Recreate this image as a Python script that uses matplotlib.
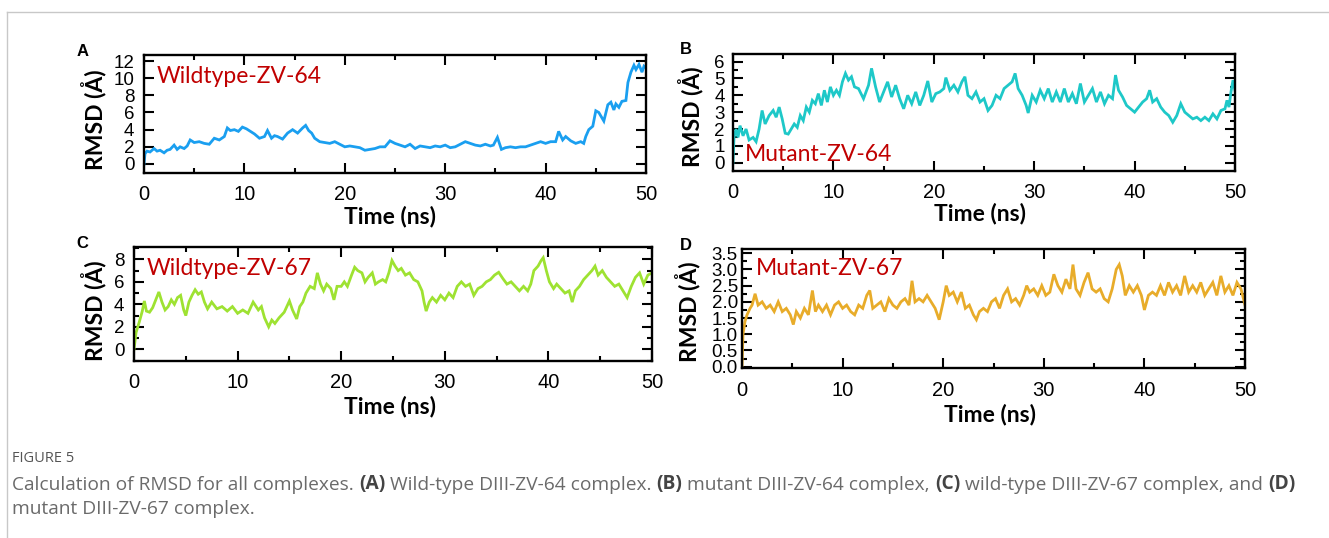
import matplotlib
matplotlib.use("Agg")
import matplotlib.pyplot as plt
from matplotlib.lines import Line2D
from matplotlib.ticker import MultipleLocator, FormatStrFormatter

W, H = 1329, 538

# ---- data (time in ns, RMSD in Angstrom) ----
t_a = [0, 0.1, 0.3, 0.6, 1.0, 1.3, 1.6, 2.0, 2.3, 2.6, 3.0, 3.3, 3.6, 4.0, 4.3, 4.6, 5.0, 5.5, 6.0, 6.5,
       7.0, 7.5, 8.0, 8.3, 8.6, 9.0, 9.4, 9.8, 10.2, 10.6, 11.0, 11.5, 12.0, 12.3, 12.7, 13.0, 13.3, 13.8, 14.3, 14.8,
       15.3, 15.8, 16.1, 16.4, 16.7, 17.0, 17.5, 18.0, 18.5, 19.0, 19.5, 20.0, 20.5, 21.0, 21.5, 22.0, 22.5, 23.0, 23.5, 24.0,
       24.5, 25.0, 25.5, 26.0, 26.5, 27.0, 27.5, 28.0, 28.5, 29.0, 29.5, 30.0, 30.5, 31.0, 31.5, 32.0, 32.5, 33.0, 33.5, 34.0,
       34.5, 34.8, 35.2, 35.6, 36.0, 36.5, 37.0, 37.5, 38.0, 38.5, 39.0, 39.5, 40.0, 40.5, 41.0, 41.3, 41.7, 42.0, 42.5, 43.0,
       43.5, 43.8, 44.0, 44.3, 44.7, 45.0, 45.3, 45.8, 46.2, 46.5, 46.8, 47.0, 47.3, 47.6, 48.0, 48.2, 48.5, 48.8, 49.0, 49.3,
       49.6, 49.8, 50.0]
rmsd_a = [0.0, 1.2, 1.5, 1.4, 1.8, 1.5, 1.6, 1.3, 1.6, 1.7, 2.2, 1.7, 2.0, 1.8, 2.1, 2.8, 2.5, 2.6, 2.4, 2.3,
          3.0, 2.8, 3.2, 4.2, 3.9, 4.0, 3.8, 4.3, 4.1, 3.8, 3.5, 3.0, 3.2, 3.9, 3.0, 3.3, 3.2, 2.9, 3.6, 4.0,
          3.6, 4.2, 4.5, 3.9, 3.6, 3.0, 2.6, 2.5, 2.4, 2.6, 2.3, 2.0, 2.1, 2.0, 1.9, 1.6, 1.7, 1.8, 2.0, 2.0,
          2.7, 2.4, 2.2, 2.0, 2.3, 1.8, 2.1, 2.0, 1.9, 2.1, 2.0, 2.2, 1.9, 2.0, 2.3, 2.6, 2.4, 2.2, 2.1, 2.3,
          2.1, 2.2, 3.1, 1.7, 1.9, 2.0, 1.9, 2.0, 2.0, 2.2, 2.4, 2.6, 2.4, 2.6, 2.6, 3.8, 2.8, 3.2, 2.7, 2.4,
          2.6, 2.4, 3.2, 4.0, 4.4, 6.2, 6.0, 5.0, 6.9, 7.2, 6.3, 7.0, 6.6, 7.3, 7.4, 9.5, 10.7, 11.5, 11.0, 11.6,
          10.7, 11.4, 11.2]

t_b = [0, 0.1, 0.3, 0.5, 0.7, 1.0, 1.3, 1.6, 2.0, 2.3, 2.6, 2.9, 3.2, 3.6, 4.0, 4.3, 4.6, 4.9, 5.2, 5.5,
       5.8, 6.1, 6.4, 6.7, 7.0, 7.3, 7.6, 7.9, 8.2, 8.5, 8.8, 9.1, 9.4, 9.7, 10.0, 10.3, 10.6, 10.9, 11.2, 11.5,
       11.8, 12.1, 12.5, 13.0, 13.5, 13.8, 14.2, 14.6, 15.0, 15.4, 15.8, 16.2, 16.6, 17.0, 17.4, 17.8, 18.2, 18.6, 19.0, 19.4,
       19.8, 20.2, 20.6, 21.0, 21.2, 21.6, 22.0, 22.4, 22.8, 23.1, 23.4, 23.8, 24.2, 24.6, 25.0, 25.4, 25.8, 26.2, 26.6, 27.0,
       27.4, 27.8, 28.1, 28.4, 28.8, 29.2, 29.4, 29.8, 30.2, 30.6, 31.0, 31.4, 31.8, 32.2, 32.6, 33.0, 33.4, 33.8, 34.2, 34.6,
       35.0, 35.4, 35.8, 36.2, 36.6, 37.0, 37.4, 37.8, 38.1, 38.4, 38.8, 39.2, 39.6, 40.0, 40.4, 40.8, 41.2, 41.5, 41.8, 42.2,
       42.6, 43.0, 43.4, 43.8, 44.2, 44.6, 45.0, 45.4, 45.8, 46.2, 46.6, 47.0, 47.4, 47.8, 48.2, 48.6, 49.0, 49.2, 49.4, 49.6,
       49.8, 50.0]
rmsd_b = [0.0, 1.5, 2.0, 1.5, 2.2, 1.6, 2.0, 1.35, 1.5, 1.25, 2.0, 3.1, 2.3, 2.8, 3.1, 2.7, 3.3, 2.6, 1.75, 1.7,
          2.0, 2.3, 2.1, 2.8, 2.5, 3.3, 3.0, 3.7, 3.5, 4.1, 3.4, 4.3, 3.6, 4.5, 4.0, 4.3, 4.0, 4.8, 5.3, 4.9,
          5.1, 4.5, 4.4, 3.8, 4.6, 5.6, 4.5, 3.6, 4.2, 4.8, 3.9, 4.6, 3.8, 3.2, 4.0, 3.5, 4.2, 3.4, 4.0, 4.85,
          3.6, 4.1, 4.2, 4.4, 5.05, 4.3, 4.6, 4.2, 4.8, 5.1, 4.0, 3.8, 4.2, 3.6, 3.8, 3.1, 3.4, 4.0, 3.8, 4.4,
          4.6, 4.8, 5.3, 4.4, 4.0, 3.4, 2.95, 4.0, 3.6, 4.3, 3.8, 4.4, 3.6, 4.2, 3.6, 4.4, 3.6, 4.1, 3.5, 4.7,
          3.6, 4.0, 4.4, 3.6, 4.2, 3.5, 4.0, 3.8, 5.2, 4.3, 3.9, 3.4, 3.2, 3.0, 3.3, 3.6, 3.8, 4.3, 3.6, 3.8,
          3.3, 3.0, 2.8, 2.4, 2.8, 3.5, 3.0, 2.8, 2.6, 2.7, 2.5, 2.7, 2.5, 2.9, 2.6, 3.1, 3.2, 3.7, 3.3, 4.2,
          4.9, 4.3]

t_c = [0, 0.2, 0.5, 0.8, 1.0, 1.2, 1.5, 1.8, 2.1, 2.4, 2.7, 3.0, 3.3, 3.6, 3.9, 4.2, 4.5, 4.8, 5.0, 5.3,
       5.6, 5.9, 6.2, 6.5, 6.8, 7.1, 7.5, 8.0, 8.5, 9.0, 9.5, 10.0, 10.5, 11.0, 11.5, 12.0, 12.3, 12.6, 13.0, 13.3,
       13.6, 14.0, 14.5, 15.0, 15.3, 15.7, 16.0, 16.3, 16.6, 17.0, 17.4, 17.7, 18.0, 18.3, 18.6, 19.0, 19.3, 19.6, 20.0, 20.3,
       20.6, 21.0, 21.3, 21.6, 22.0, 22.3, 22.6, 23.0, 23.3, 23.6, 24.0, 24.3, 24.6, 24.9, 25.2, 25.5, 25.8, 26.2, 26.6, 27.0,
       27.4, 27.8, 28.0, 28.2, 28.5, 28.8, 29.2, 29.6, 30.0, 30.4, 30.8, 31.2, 31.6, 32.0, 32.4, 32.8, 33.2, 33.6, 34.0, 34.4,
       34.8, 35.2, 35.6, 36.0, 36.4, 36.8, 37.2, 37.6, 38.0, 38.3, 38.6, 39.0, 39.3, 39.5, 39.8, 40.1, 40.5, 40.8, 41.2, 41.6,
       42.0, 42.3, 42.6, 43.0, 43.4, 43.8, 44.2, 44.5, 44.8, 45.2, 45.6, 46.0, 46.4, 46.8, 47.2, 47.6, 48.0, 48.4, 48.8, 49.2,
       49.6, 50.0]
rmsd_c = [0.0, 1.5, 2.4, 3.4, 4.3, 3.4, 3.3, 3.7, 4.4, 5.1, 4.2, 3.5, 3.8, 4.4, 4.0, 4.6, 4.8, 3.5, 3.0, 4.2,
          4.8, 5.3, 4.9, 5.1, 4.2, 3.6, 4.2, 3.6, 3.8, 3.4, 3.8, 3.2, 3.5, 3.2, 4.2, 3.5, 3.8, 2.8, 2.0, 2.6,
          2.3, 2.8, 3.3, 4.3, 3.5, 2.7, 3.8, 4.2, 5.0, 5.6, 5.4, 6.8, 5.8, 5.2, 5.8, 5.4, 4.4, 5.6, 5.6, 6.0,
          5.6, 6.6, 7.3, 7.0, 6.8, 6.0, 6.4, 6.8, 5.8, 6.0, 6.2, 6.0, 6.8, 7.9, 7.4, 7.0, 7.2, 6.6, 6.8, 6.2,
          6.0, 5.2, 4.2, 3.4, 4.2, 4.6, 4.2, 4.8, 4.4, 5.0, 4.6, 5.6, 6.0, 5.6, 5.8, 4.8, 5.4, 5.6, 6.0, 6.2,
          6.6, 6.85, 6.3, 5.8, 6.0, 5.6, 5.2, 5.6, 5.2, 5.8, 7.0, 7.4, 7.9, 8.15, 7.0, 6.0, 5.4, 5.8, 5.4, 5.0,
          5.2, 4.2, 5.2, 5.6, 6.2, 6.6, 7.0, 7.4, 6.6, 7.0, 6.4, 6.0, 5.6, 5.8, 5.2, 4.6, 5.6, 6.4, 6.8, 5.8,
          6.6, 6.8]

t_d = [0, 0.1, 0.3, 0.5, 0.8, 1.0, 1.3, 1.6, 2.0, 2.4, 2.8, 3.2, 3.6, 4.0, 4.4, 4.8, 5.1, 5.4, 5.8, 6.2,
       6.6, 7.0, 7.3, 7.6, 8.0, 8.4, 8.8, 9.2, 9.6, 10.0, 10.4, 10.8, 11.2, 11.6, 12.0, 12.4, 12.7, 13.0, 13.4, 13.8,
       14.2, 14.6, 15.0, 15.4, 15.8, 16.2, 16.6, 16.9, 17.2, 17.6, 18.0, 18.4, 18.8, 19.2, 19.6, 20.0, 20.3, 20.6, 21.0, 21.4,
       21.8, 22.2, 22.6, 23.0, 23.3, 23.6, 24.0, 24.4, 24.8, 25.2, 25.6, 26.0, 26.4, 26.8, 27.2, 27.6, 28.0, 28.3, 28.6, 29.0,
       29.4, 29.8, 30.2, 30.6, 31.0, 31.4, 31.8, 32.2, 32.6, 32.9, 33.2, 33.6, 34.0, 34.4, 34.8, 35.2, 35.6, 36.0, 36.4, 36.8,
       37.2, 37.5, 37.8, 38.1, 38.5, 38.9, 39.3, 39.7, 40.0, 40.4, 40.8, 41.2, 41.6, 42.0, 42.4, 42.8, 43.2, 43.6, 44.0, 44.4,
       44.8, 45.2, 45.6, 46.0, 46.4, 46.8, 47.2, 47.6, 48.0, 48.4, 48.8, 49.2, 49.6, 50.0]
rmsd_d = [0.0, 1.0, 1.4, 1.6, 1.8, 1.9, 2.25, 1.9, 2.0, 1.8, 1.9, 1.7, 2.0, 1.7, 1.8, 1.6, 1.3, 1.7, 1.5, 1.8,
          1.6, 2.35, 1.7, 1.9, 1.7, 1.9, 1.6, 1.9, 2.0, 1.8, 1.9, 1.7, 1.6, 1.9, 1.8, 2.2, 2.35, 1.8, 1.9, 2.0,
          1.7, 2.1, 1.9, 1.8, 2.0, 2.1, 1.9, 2.65, 2.0, 2.1, 2.0, 2.2, 2.0, 1.8, 1.45, 2.0, 2.5, 2.2, 2.3, 2.0,
          2.3, 1.8, 1.9, 1.6, 1.45, 1.7, 1.8, 1.7, 2.0, 2.1, 1.8, 2.2, 2.4, 2.0, 2.1, 1.9, 2.2, 2.5, 2.3, 2.4,
          2.2, 2.5, 2.2, 2.3, 2.85, 2.5, 2.3, 2.7, 2.4, 3.15, 2.4, 2.2, 2.6, 2.9, 2.4, 2.3, 2.4, 2.1, 2.0, 2.4,
          3.0, 3.15, 2.8, 2.2, 2.5, 2.3, 2.5, 2.2, 1.75, 2.2, 2.3, 2.2, 2.5, 2.2, 2.6, 2.3, 2.5, 2.2, 2.8, 2.3,
          2.5, 2.3, 2.6, 2.2, 2.4, 2.6, 2.2, 2.8, 2.3, 2.5, 2.2, 2.6, 2.4, 1.9]

panels = [
    # letter, label, t, y, colour, pixel box (l, t, r, b), ylim, major, minor, fmt,
    # name pos, ylabel pos, xlabel pos (axes coords), ytick pad
    ("A", "Wildtype-ZV-64", t_a, rmsd_a, "#1a9ff0", (144, 55, 646, 173), (-1.05, 12.7), 2, None, "%d",
     (0.026, 0.82), (-0.10, 0.45), (0.49, -0.37), 7),
    ("B", "Mutant-ZV-64", t_b, rmsd_b, "#1ec8c8", (733, 54, 1235, 171), (-0.49, 6.45), 1, 0.5, "%d",
     (0.024, 0.14), (-0.084, 0.46), (0.492, -0.36), 6),
    ("C", "Wildtype-ZV-67", t_c, rmsd_c, "#9ee232", (134, 247, 652, 361), (-1.04, 9.1), 2, 1, "%d",
     (0.025, 0.815), (-0.079, 0.44), (0.494, -0.40), 7),
    ("D", "Mutant-ZV-67", t_d, rmsd_d, "#e8ac2a", (742, 249, 1245, 368), (-0.04, 3.63), 0.5, 0.25, "%.1f",
     (0.028, 0.84), (-0.109, 0.47), (0.493, -0.387), 3),
]
letter_pos = {"A": (83, 52), "B": (686, 49), "C": (82, 244), "D": (686, 245)}

fig = plt.figure(figsize=(W / 100, H / 100), dpi=100)
fig.patch.set_facecolor("white")

for (letter, name, t, y, col, box, ylim, major, minor, fmt,
     name_pos, ylab_pos, xlab_pos, ypad) in panels:
    l, tp, r, b = box
    ax = fig.add_axes([l / W, 1 - b / H, (r - l) / W, (b - tp) / H])
    ax.plot(t, y, color=col, lw=2.0, solid_joinstyle="miter")
    ax.set_xlim(0, 50)
    ax.set_ylim(*ylim)
    ax.xaxis.set_major_locator(MultipleLocator(10))
    ax.xaxis.set_minor_locator(MultipleLocator(5))
    ax.yaxis.set_major_locator(MultipleLocator(major))
    if minor:
        ax.yaxis.set_minor_locator(MultipleLocator(minor))
    ax.yaxis.set_major_formatter(FormatStrFormatter(fmt))
    ax.tick_params(which="both", direction="in", top=True, right=True, width=1.5)
    ax.tick_params(which="major", length=7)
    ax.tick_params(which="minor", length=3.5)
    ax.tick_params(axis="x", pad=9, labelsize=14.5)
    ax.tick_params(axis="y", pad=ypad, labelsize=13.5)
    for lab in ax.get_xticklabels() + ax.get_yticklabels():
        lab.set_fontfamily("Liberation Sans")
    for sp in ax.spines.values():
        sp.set_linewidth(1.7)
    ax.set_ylabel("RMSD (Å)", fontfamily="Lato", fontweight="bold", fontsize=16.5)
    ax.set_xlabel("Time (ns)", fontfamily="Lato", fontweight="bold", fontsize=16.5)
    ax.yaxis.label.set_va("center")
    ax.xaxis.label.set_va("center")
    ax.yaxis.set_label_coords(*ylab_pos)
    ax.xaxis.set_label_coords(*xlab_pos)
    ax.text(name_pos[0], name_pos[1], name, transform=ax.transAxes, color="#c00000",
            fontfamily="Lato", fontsize=16.5, va="center", ha="left")
    lx, ly = letter_pos[letter]
    fig.text(lx / W, 1 - ly / H, letter, fontfamily="Liberation Sans", fontweight="bold",
             fontsize=12, ha="center", va="center")

# frame lines of the figure box
fig.add_artist(Line2D([7 / W, 1], [1 - 12 / H, 1 - 12 / H], transform=fig.transFigure,
                      color="#c8c8c8", lw=1))
fig.add_artist(Line2D([7 / W, 7 / W], [0, 1 - 12 / H], transform=fig.transFigure,
                      color="#c8c8c8", lw=1))

# caption
cap = fig.add_axes([0, 0, 1, 1], zorder=-1)
cap.axis("off")
cap.set_xlim(0, W)
cap.set_ylim(H, 0)
cfont = "Open Sans"
cap.text(12, 459, "FIGURE 5", fontfamily=cfont, fontsize=10.5, color="#555555", va="center", ha="left")

line1 = [("Calculation of RMSD for all complexes.", "normal"), ("(A)", "bold"),
         ("Wild-type DIII-ZV-64 complex.", "normal"), ("(B)", "bold"),
         ("mutant DIII-ZV-64 complex,", "normal"), ("(C)", "bold"),
         ("wild-type DIII-ZV-67 complex, and", "normal"), ("(D)", "bold")]
line2 = [("mutant DIII-ZV-67 complex.", "normal")]
csize = 13.8
gap = 5
for pieces, yc in [(line1, 485), (line2, 509)]:
    prev = None
    for s, w in pieces:
        c = "#444444" if w == "bold" else "#6a6a6a"
        if prev is None:
            prev = cap.text(12, yc, s, fontfamily=cfont, fontsize=csize, fontweight=w, color=c,
                            va="center", ha="left")
        else:
            prev = cap.annotate(s, xy=(1, 0), xycoords=prev, xytext=(gap, 0),
                                textcoords="offset pixels", fontfamily=cfont, fontsize=csize,
                                fontweight=w, color=c, va="bottom", ha="left")

fig.savefig("out.png", dpi=100)
